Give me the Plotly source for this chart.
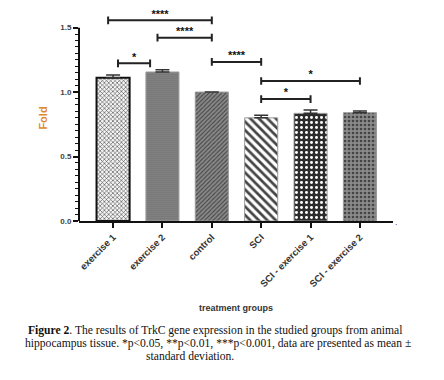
import plotly.graph_objects as go

# ---- data ----
categories = ["exercise 1", "exercise 2", "control", "SCI", "SCI - exercise 1", "SCI - exercise 2"]
fold_mean = [1.112, 1.156, 1.0, 0.80, 0.835, 0.84]
fold_sd = [0.021, 0.018, 0.0, 0.020, 0.026, 0.013]

# significance brackets (category positions, height, label)
sig_x0 = [-0.1, 0.9, 0.1, 2.0, 3.0, 3.0]
sig_x1 = [2.0, 2.0, 0.75, 3.0, 4.0, 5.0]
sig_y = [1.557, 1.422, 1.223, 1.234, 0.946, 1.086]
sig_label = ["****", "****", "*", "****", "*", "*"]

y_ticks = [0.0, 0.5, 1.0, 1.5]
y_tick_text = ["0.0", "0.5", "1.0", "1.5"]
y_minor = [round(i * 0.05, 2) for i in range(31)]

caption_lines = [
    "<b>Figure 2</b>. The results of TrkC gene expression in the studied groups from animal",
    "hippocampus tissue. *p<0.05, **p<0.01, ***p<0.001, data are presented as mean ±",
    "standard deviation.",
]

# ---- styles ----
pat_shape = ["x", ".", "/", "\\", ".", "."]
bar_fill = ["#f4f4f4", "#8e8e8e", "#8a8a8a", "#ffffff", "#2c2c2c", "#8a8a8a"]
pat_fg = ["#a8a8a8", "#7c7c7c", "#5a5a5a", "#1e1e1e", "#a8a8a8", "#2a2a2a"]
pat_size = [3, 2, 3, 6, 5, 4]
pat_sol = [0.35, 0.3, 0.35, 0.45, 0.28, 0.35]
edge_col = ["#111111", "#a0a0a0", "#9a9a9a", "#9a9a9a", "#9a9a9a", "#9a9a9a"]
edge_w = [2, 1, 1, 1, 1, 1]

fig = go.Figure()
fig.add_trace(go.Bar(
    x=list(range(len(categories))),
    y=fold_mean,
    width=0.67,
    marker=dict(
        color=bar_fill,
        line=dict(color=edge_col, width=edge_w),
        pattern=dict(shape=pat_shape, fgcolor=pat_fg, fgopacity=1,
                     size=pat_size, solidity=pat_sol, fillmode="overlay"),
    ),
    error_y=dict(type="data", array=fold_sd, arrayminus=[0] * len(fold_sd),
                 symmetric=False, color="#333333", thickness=1.5, width=7),
    showlegend=False,
))

# brackets
d = 0.03
bx, by = [], []
for x0, x1, y in zip(sig_x0, sig_x1, sig_y):
    bx += [x0, x0, x0, x1, x1, x1, None]
    by += [y - d, y + d, y, y, y + d, y - d, None]
fig.add_trace(go.Scatter(x=bx, y=by, mode="lines",
                         line=dict(color="#222222", width=2),
                         showlegend=False, hoverinfo="skip"))
fig.add_trace(go.Scatter(
    x=[(a + b) / 2 for a, b in zip(sig_x0, sig_x1)], y=sig_y,
    mode="text", text=sig_label, textposition="top center",
    textfont=dict(family="Arial, Liberation Sans, sans-serif", size=11, color="#111111",
                  weight="bold"),
    cliponaxis=False, showlegend=False, hoverinfo="skip"))

# y-axis line from 0 to 1.5 only
fig.add_shape(type="line", xref="x domain", yref="y", x0=0, x1=0, y0=0, y1=1.5,
              line=dict(color="#111111", width=2))

# the page body adds an 8 px offset, so the figure is 8 px smaller on each side
fig.update_layout(
    width=436, height=372,
    margin=dict(l=71, r=51, t=7, b=159),
    paper_bgcolor="white", plot_bgcolor="white",
    font=dict(family="Arial, Liberation Sans, sans-serif", color="#333333"),
    xaxis=dict(
        range=[-0.69, 5.67],
        tickmode="array", tickvals=list(range(len(categories))), ticktext=categories,
        tickangle=-45,
        tickfont=dict(size=9.5, color="#333333", family="Arial, Liberation Sans, sans-serif",
                      weight="bold"),
        ticks="outside", ticklen=5, tickwidth=1.5, tickcolor="#111111",
        showline=True, linecolor="#111111", linewidth=2,
        showgrid=False, zeroline=False,
        title=dict(text="treatment groups",
                   font=dict(size=9, color="#333333", weight="bold"), standoff=17),
        automargin=False,
    ),
    yaxis=dict(
        range=[0, 1.598],
        tickmode="array", tickvals=y_ticks, ticktext=y_tick_text,
        tickfont=dict(size=8, color="#444444", family="Arial, Liberation Sans, sans-serif",
                      weight="bold"),
        ticks="outside", ticklen=5, tickwidth=1.5, tickcolor="#111111",
        minor=dict(tickmode="array", tickvals=y_minor, ticks="outside", ticklen=3,
                   tickwidth=1, tickcolor="#111111", showgrid=False),
        showline=False, showgrid=False, zeroline=False,
        title=dict(text="Fold", font=dict(size=11, color="#e0892c", weight="bold"), standoff=10),
        automargin=False,
    ),
)

# caption lines: (centre x in page px) -> paper coords of the plot area (79..393)
cap_centres = [215, 218, 190]
for i, (line, cx) in enumerate(zip(caption_lines, cap_centres)):
    fig.add_annotation(
        xref="paper", yref="paper", x=(cx - 79) / 314, xanchor="center",
        y=0, yanchor="middle", yshift=-(330 - 221) - 13 * i,
        text=line, showarrow=False,
        font=dict(family="Liberation Serif, Times New Roman, serif", size=11.6, color="#111111"),
    )
fig.add_annotation(xref="paper", yref="paper", x=1, y=0, xshift=7, yshift=-8,
                   text=".", showarrow=False, font=dict(size=9, color="#555555"))

fig.write_html("out.html")
